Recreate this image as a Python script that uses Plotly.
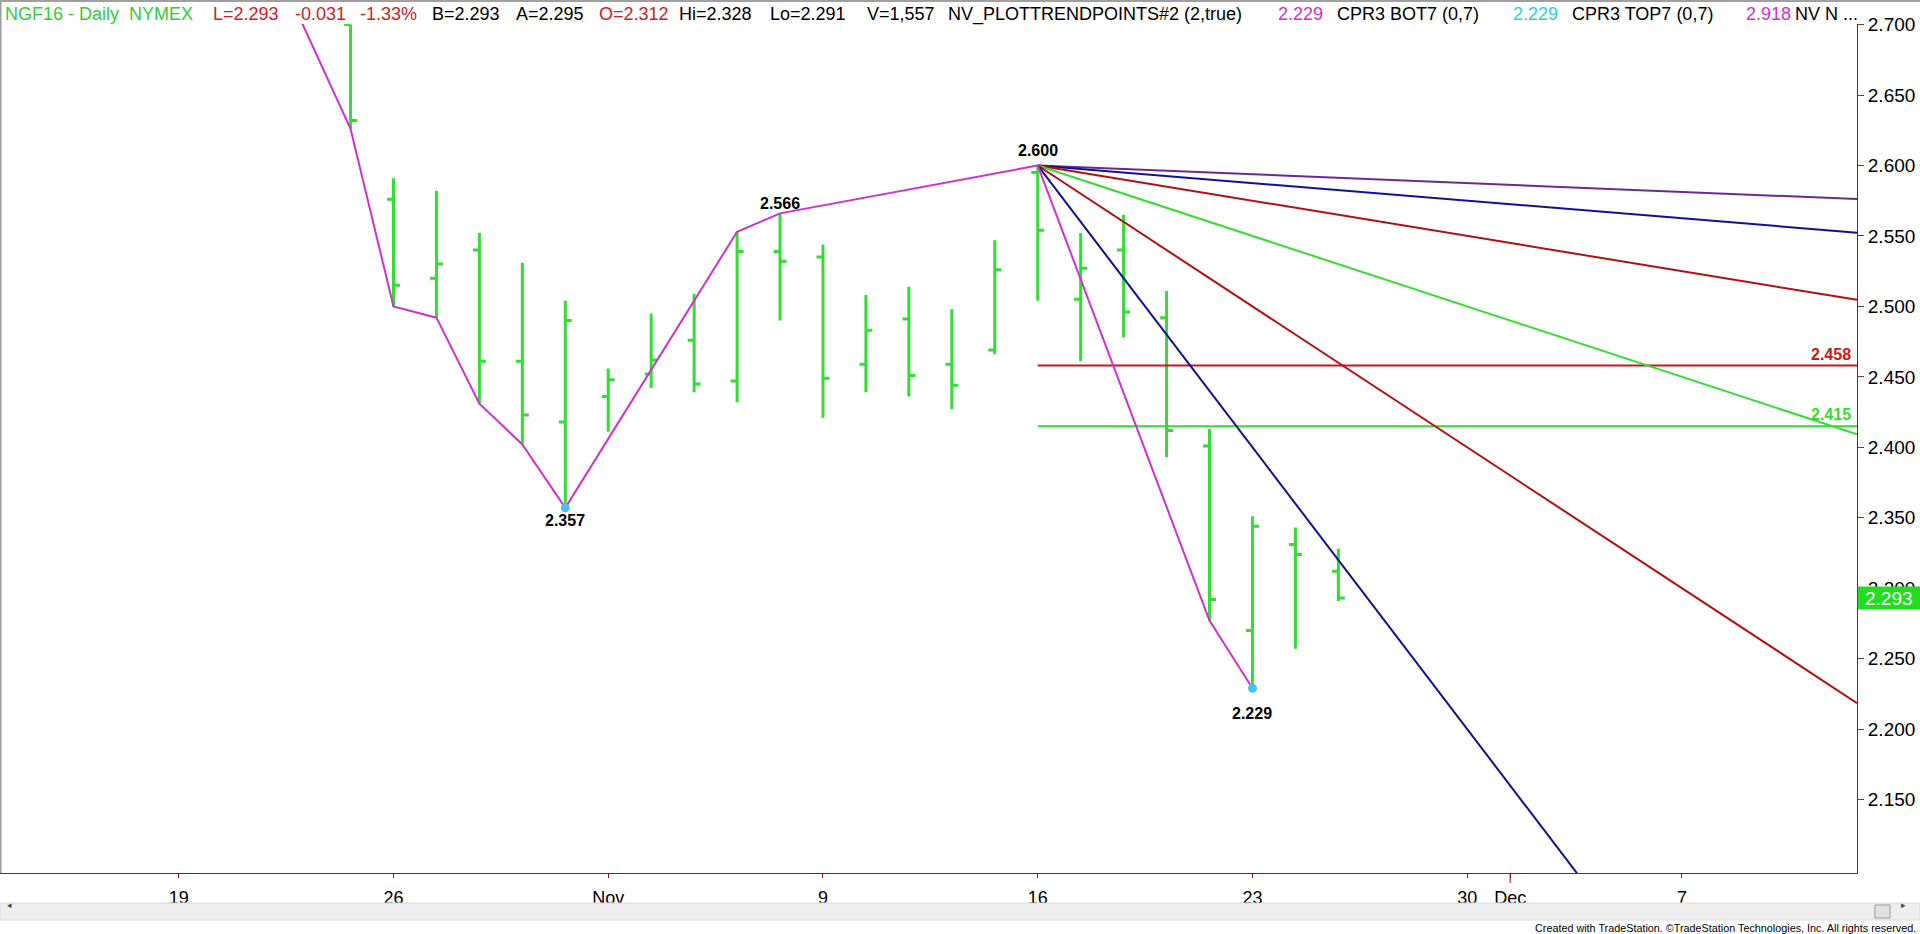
import numpy as np
import plotly.graph_objects as go

# ---------------- data ----------------
dates = ["2015-10-23", "2015-10-26", "2015-10-27", "2015-10-28", "2015-10-29", "2015-10-30",
         "2015-11-02", "2015-11-03", "2015-11-04", "2015-11-05", "2015-11-06",
         "2015-11-09", "2015-11-10", "2015-11-11", "2015-11-12", "2015-11-13",
         "2015-11-16", "2015-11-17", "2015-11-18", "2015-11-19", "2015-11-20",
         "2015-11-23", "2015-11-24", "2015-11-25"]
opens = [2.700, 2.576, 2.520, 2.540, 2.461, 2.418,
         2.436, 2.452, 2.476, 2.447, 2.539,
         2.535, 2.459, 2.491, 2.459, 2.469,
         2.595, 2.505, 2.540, 2.492, 2.401,
         2.270, 2.331, 2.312]
highs = [2.700, 2.591, 2.582, 2.552, 2.531, 2.504,
         2.456, 2.495, 2.509, 2.553, 2.566,
         2.544, 2.508, 2.514, 2.498, 2.547,
         2.600, 2.552, 2.565, 2.511, 2.413,
         2.351, 2.343, 2.328]
lows = [2.626, 2.500, 2.492, 2.431, 2.402, 2.357,
        2.411, 2.442, 2.439, 2.432, 2.490,
        2.421, 2.439, 2.436, 2.427, 2.466,
        2.504, 2.461, 2.478, 2.393, 2.277,
        2.229, 2.257, 2.291]
closes = [2.632, 2.515, 2.530, 2.461, 2.423, 2.490,
          2.448, 2.462, 2.445, 2.539, 2.532,
          2.449, 2.483, 2.451, 2.444, 2.526,
          2.554, 2.527, 2.496, 2.412, 2.292,
          2.344, 2.324, 2.293]

# zig-zag trend points (NV_PLOTTRENDPOINTS)
trend_dates = ["2015-10-21", "2015-10-23", "2015-10-26", "2015-10-27", "2015-10-28", "2015-10-29",
               "2015-10-30", "2015-11-05", "2015-11-06", "2015-11-16", "2015-11-20", "2015-11-23"]
trend_values = [2.759, 2.626, 2.500, 2.492, 2.431, 2.402,
                2.357, 2.553, 2.566, 2.600, 2.277, 2.229]

pivot_dates = ["2015-10-30", "2015-11-23"]
pivot_values = [2.357, 2.229]

label_dates = ["2015-10-30", "2015-11-06", "2015-11-16", "2015-11-23"]
label_values = [2.357, 2.566, 2.600, 2.229]

# Gann-style fan from the 2.600 high (price change per bar)
fan_anchor_date = "2015-11-16"
fan_anchor_value = 2.600
fan_slopes = [0.00125, 0.0025, 0.005, 0.01, 0.02, 0.04]

level_start = "2015-11-16"
level_values = [2.458, 2.415]

tick_dates = ["2015-10-19", "2015-10-26", "2015-11-02", "2015-11-09", "2015-11-16",
              "2015-11-23", "2015-11-30", "2015-12-01", "2015-12-07"]
tick_labels = ["19", "26", "Nov", "9", "16", "23", "30", "Dec", "7"]

price_ticks = [2.150, 2.200, 2.250, 2.300, 2.350, 2.400, 2.450, 2.500, 2.550, 2.600, 2.650, 2.700]

header_texts = ["NGF16 - Daily  NYMEX", "L=2.293", "-0.031", "-1.33%", "B=2.293", "A=2.295",
                "O=2.312", "Hi=2.328", "Lo=2.291", "V=1,557", "NV_PLOTTRENDPOINTS#2 (2,true)",
                "2.229", "CPR3 BOT7 (0,7)", "2.229", "CPR3 TOP7 (0,7)", "2.918", "NV N ..."]

# ---------------- styles / layout positions ----------------
fan_colors = ["#6A2A90", "#10109A", "#B01010", "#33DD33", "#B01010", "#10108A"]
level_colors = ["#D01515", "#33DD33"]
label_offsets = [-13, 10, 15, -25]
header_colors = ["#33CC33", "#CC2222", "#CC2222", "#CC2222", "#000000", "#000000",
                 "#CC2222", "#000000", "#000000", "#000000", "#000000",
                 "#CC33CC", "#000000", "#33CCDD", "#000000", "#CC33CC", "#000000"]
header_px = [3, 211, 293, 358, 430, 514, 597, 677, 768, 865, 946,
             1276, 1335, 1511, 1570, 1744, 1793]

BASE = "2015-10-19"


def bar_index(d):
    return np.busday_count(BASE, d)


X_MIN, X_MAX = -4.162, 39.076
Y_MIN, Y_MAX = 2.0979, 2.7004
W, H = 1920, 934
ML, MR, MT, MB = 0, 63, 24, 61
PW, PH = W - ML - MR, H - MT - MB

FONT = "Arial, Liberation Sans, sans-serif"
GREEN = "#33DD33"
AXIS_RED = "#A01010"

xb = [bar_index(d) for d in dates]

fig = go.Figure()

fig.add_trace(go.Ohlc(
    x=xb, open=opens, high=highs, low=lows, close=closes,
    increasing=dict(line=dict(color=GREEN, width=3)),
    decreasing=dict(line=dict(color=GREEN, width=3)),
    tickwidth=0.15, hoverinfo="skip", showlegend=False,
))

# horizontal levels
for v, c in zip(level_values, level_colors):
    fig.add_trace(go.Scatter(x=[bar_index(level_start), X_MAX], y=[v, v], mode="lines",
                             line=dict(color=c, width=2), hoverinfo="skip", showlegend=False))

# fan lines
x0 = bar_index(fan_anchor_date)
for s, c in zip(fan_slopes, fan_colors):
    fig.add_trace(go.Scatter(x=[x0, X_MAX], y=[fan_anchor_value, fan_anchor_value - s * (X_MAX - x0)],
                             mode="lines", line=dict(color=c, width=2),
                             hoverinfo="skip", showlegend=False))

# zig-zag
fig.add_trace(go.Scatter(x=[bar_index(d) for d in trend_dates], y=trend_values, mode="lines",
                         line=dict(color="#CC33CC", width=2), hoverinfo="skip", showlegend=False))

fig.add_trace(go.Scatter(x=[bar_index(d) for d in pivot_dates], y=pivot_values, mode="markers",
                         marker=dict(color="#44C4F4", size=9), hoverinfo="skip", showlegend=False))

annotations = []
for d, v, off in zip(label_dates, label_values, label_offsets):
    annotations.append(dict(
        x=bar_index(d), y=v, xref="x", yref="y", text="<b>%.3f</b>" % v, showarrow=False,
        font=dict(family=FONT, size=16, color="#000000"),
        yanchor="middle", yshift=off,
    ))

for v, c in zip(level_values, level_colors):
    annotations.append(dict(
        x=(1853 - ML) / PW, y=v, xref="paper", yref="y", text="<b>%.3f</b>" % v, showarrow=False,
        xanchor="right", yanchor="bottom", yshift=1,
        font=dict(family=FONT, size=16, color=c),
    ))

for text, color, px in zip(header_texts, header_colors, header_px):
    annotations.append(dict(
        x=(px - ML) / PW, y=1 + (MT - 14.5) / PH, xref="paper", yref="paper", text=text,
        showarrow=False, xanchor="left", yanchor="middle",
        font=dict(family=FONT, size=18, color=color),
    ))

# last price box
last = closes[-1]
ly = (last - Y_MIN) / (Y_MAX - Y_MIN)
box_h = 23 / PH
shapes = [
    dict(type="rect", xref="paper", yref="paper", x0=1.0004, x1=(W - ML) / PW,
         y0=ly - box_h / 2, y1=ly + box_h / 2, fillcolor="#22DD22", line=dict(width=0), layer="above"),
]
annotations.append(dict(
    x=(1889 - ML) / PW, y=ly, xref="paper", yref="paper", text="%.3f" % last, showarrow=False,
    xanchor="center", yanchor="middle", font=dict(family=FONT, size=19, color="#F4FFF4"),
))

# month tick (longer) for Dec
dec_x = (bar_index("2015-12-01") - X_MIN) / (X_MAX - X_MIN)
shapes.append(dict(type="line", xref="paper", yref="paper", x0=dec_x, x1=dec_x, y0=0, y1=-10 / PH,
                   line=dict(color=AXIS_RED, width=1)))

# frame
shapes.append(dict(type="line", xref="paper", yref="paper", x0=0.0003, x1=0.0003, y0=1 + (MT - 1) / PH,
                   y1=0, line=dict(color="#A0A0A0", width=2)))
shapes.append(dict(type="line", xref="paper", yref="paper", x0=0, x1=(W - ML) / PW, y0=1 + (MT - 1) / PH,
                   y1=1 + (MT - 1) / PH, line=dict(color="#A0A0A0", width=2)))

# scrollbar
sb_top = -(903 - (H - MB)) / PH
sb_bot = -(920 - (H - MB)) / PH
shapes.append(dict(type="rect", xref="paper", yref="paper", x0=0, x1=(W - ML) / PW, y0=sb_bot, y1=sb_top,
                   fillcolor="#EEEEEE", line=dict(color="#DADADA", width=1)))
shapes.append(dict(type="rect", xref="paper", yref="paper", x0=(1875 - ML) / PW, x1=(1890 - ML) / PW,
                   y0=-(918 - (H - MB)) / PH, y1=-(905 - (H - MB)) / PH,
                   fillcolor="#E2E2E2", line=dict(color="#9A9A9A", width=1)))
annotations.append(dict(x=(1908 - ML) / PW, y=(sb_top + sb_bot) / 2, xref="paper", yref="paper",
                        text="\u25B8", showarrow=False, font=dict(family="DejaVu Sans", size=9, color="#444444")))
annotations.append(dict(x=(5 - ML) / PW, y=(sb_top + sb_bot) / 2, xref="paper", yref="paper",
                        text="\u25C2", showarrow=False, font=dict(family="DejaVu Sans", size=9, color="#444444")))

annotations.append(dict(
    x=(1918 - ML) / PW, y=-(928 - (H - MB)) / PH, xref="paper", yref="paper",
    text="Created with TradeStation. \u00A9TradeStation Technologies, Inc. All rights reserved.",
    showarrow=False, xanchor="right", yanchor="middle",
    font=dict(family=FONT, size=10.8, color="#000000"),
))

fig.update_layout(
    width=W, height=H, autosize=False,
    margin=dict(l=ML, r=MR, t=MT, b=MB, pad=0),
    plot_bgcolor="white", paper_bgcolor="white", showlegend=False,
    annotations=annotations, shapes=shapes,
    xaxis=dict(
        range=[X_MIN, X_MAX], tickmode="array",
        tickvals=[bar_index(d) for d in tick_dates], ticktext=tick_labels,
        showgrid=False, zeroline=False, showline=True, linecolor=AXIS_RED, linewidth=1,
        ticks="outside", ticklen=4, tickcolor=AXIS_RED, tickwidth=1,
        tickfont=dict(family=FONT, size=18, color="#000000"),
        ticklabelstandoff=4,
        rangeslider=dict(visible=False), fixedrange=True,
    ),
    yaxis=dict(
        range=[Y_MIN, Y_MAX], side="right", tickmode="array", tickvals=price_ticks,
        ticktext=["%.3f" % t for t in price_ticks],
        showgrid=False, zeroline=False, showline=True, linecolor=AXIS_RED, linewidth=1,
        ticks="outside", ticklen=6, tickcolor="#803030", tickwidth=1,
        tickfont=dict(family=FONT, size=19, color="#000000"), fixedrange=True,
    ),
)

fig.write_html(
    "out.html",
    config={"displayModeBar": False},
    post_script="document.body.style.margin='0';document.body.style.overflow='hidden';",
)
